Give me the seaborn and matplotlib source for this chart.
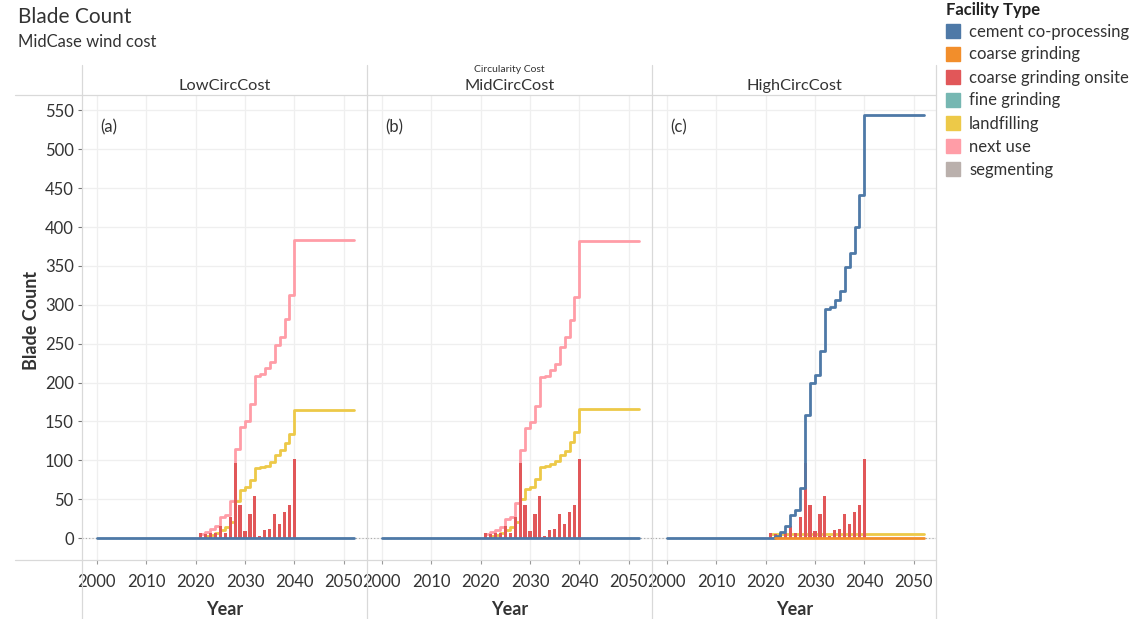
import matplotlib
matplotlib.use("Agg")
import matplotlib.pyplot as plt
from matplotlib.lines import Line2D
import pandas as pd
import seaborn as sns

# ---- data -------------------------------------------------------------
scenarios = ["LowCircCost", "MidCircCost", "HighCircCost"]
panel_tags = ["(a)", "(b)", "(c)"]

facility_types = [
    "cement co-processing",
    "coarse grinding",
    "coarse grinding onsite",
    "fine grinding",
    "landfilling",
    "next use",
    "segmenting",
]
facility_colors = ["#4E79A7", "#F28E2B", "#E15759", "#76B7B2",
                   "#EDC948", "#FF9DA7", "#BAB0AC"]

# coarse grinding onsite: yearly blade counts (same in all scenarios)
onsite_years = list(range(2021, 2041))
onsite_counts = [7, 5, 6.5, 6, 15.5, 6, 27, 96, 43, 9.5,
                 31, 54.5, 2.5, 10, 12, 31, 18.5, 33.5, 42, 102]

# cumulative step series
years_flat = [2000, 2052]
zero_flat = [0, 0]

years_next_use = list(range(2021, 2041)) + [2052]
low_next_use = [5, 8, 11, 15, 27, 29, 48, 115, 143, 150, 172, 209,
                211, 219, 226, 248, 259, 282, 312, 383, 383]
mid_next_use = [5, 8, 10, 14, 24, 27, 45, 113, 142, 149, 170, 207,
                209, 216, 224, 246, 258, 281, 310, 382, 382]

years_landfill = list(range(2022, 2041)) + [2052]
low_landfill = [2, 4, 6, 10, 14, 21, 48, 62, 66, 75, 90, 91, 93, 98,
                107, 113, 122, 134, 165, 165]
mid_landfill = [2, 4, 6, 10, 14, 21, 50, 63, 66, 76, 91, 93, 95, 99,
                107, 112, 123, 136, 166, 166]

years_high_cement = [2000] + list(range(2022, 2041)) + [2052]
high_cement = [0, 3, 8, 15, 29, 36, 64, 158, 200, 210, 240, 295, 297,
               306, 318, 348, 366, 400, 441, 544, 544]

years_high_landfill = [2021, 2052]
high_landfill = [5, 5]
years_high_coarse = [2022, 2052]
high_coarse = [0, 0]

# ---- long tables ------------------------------------------------------
line_parts = [
    ("LowCircCost", "cement co-processing", years_flat, zero_flat),
    ("LowCircCost", "landfilling", years_landfill, low_landfill),
    ("LowCircCost", "next use", years_next_use, low_next_use),
    ("MidCircCost", "cement co-processing", years_flat, zero_flat),
    ("MidCircCost", "landfilling", years_landfill, mid_landfill),
    ("MidCircCost", "next use", years_next_use, mid_next_use),
    ("HighCircCost", "cement co-processing", years_high_cement, high_cement),
    ("HighCircCost", "coarse grinding", years_high_coarse, high_coarse),
    ("HighCircCost", "landfilling", years_high_landfill, high_landfill),
]
lines_df = pd.concat(
    [pd.DataFrame({"Scenario": s, "Facility": f, "Year": y, "Count": v})
     for s, f, y, v in line_parts],
    ignore_index=True,
)
bars_df = pd.concat(
    [pd.DataFrame({"Scenario": s, "Year": onsite_years, "Count": onsite_counts})
     for s in scenarios],
    ignore_index=True,
)

palette = dict(zip(facility_types, facility_colors))
# stacking: next use / landfilling under the bars, cement / coarse grinding above
back_types = ["landfilling", "next use"]
front_types = ["coarse grinding", "cement co-processing"]

# ---- figure -----------------------------------------------------------
sns.set_theme(style="white")
plt.rcParams["font.family"] = ["Lato", "DejaVu Sans"]

W, H = 1138, 619
fig = plt.figure(figsize=(W / 100, H / 100), dpi=100)

text_col = "#333333"
grid_col = "#efefef"
sep_col = "#d9d9d9"

pane_left = [82, 367, 652]
pane_w = 285
pane_top, pane_bottom = 95, 560

for i, scen in enumerate(scenarios):
    ax = fig.add_axes([pane_left[i] / W, 1 - pane_bottom / H,
                       pane_w / W, (pane_bottom - pane_top) / H])
    ax.set_facecolor("white")
    ax.grid(True, color=grid_col, linewidth=0.9, zorder=0)
    ax.set_axisbelow(True)
    ax.axhline(0, color="#a8a8a8", linestyle=(0, (1, 2)), linewidth=0.8, zorder=1)

    sub_lines = lines_df[lines_df["Scenario"] == scen]
    back = sub_lines[sub_lines["Facility"].isin(back_types)]
    front = sub_lines[sub_lines["Facility"].isin(front_types)]

    if len(back):
        sns.lineplot(data=back, x="Year", y="Count", hue="Facility",
                     hue_order=facility_types, palette=palette,
                     drawstyle="steps-post", linewidth=2.0, errorbar=None,
                     legend=False, ax=ax, zorder=2)
    sns.barplot(data=bars_df[bars_df["Scenario"] == scen], x="Year", y="Count",
                native_scale=True, width=0.65, color="#E15759", saturation=1,
                errorbar=None, linewidth=0, ax=ax, zorder=2.5)
    sns.lineplot(data=front, x="Year", y="Count", hue="Facility",
                 hue_order=facility_types, palette=palette,
                 drawstyle="steps-post", linewidth=2.0, errorbar=None,
                 legend=False, ax=ax, zorder=3)

    ax.set_xlim(1997.0, 2054.7)
    ax.set_ylim(-28.3, 569.9)
    ax.set_xticks(range(2000, 2051, 10))
    ax.set_yticks(range(0, 551, 50))
    for sp in ax.spines.values():
        sp.set_visible(False)

    ax.tick_params(axis="x", bottom=True, direction="out", length=3, width=0.8,
                   color="#9a9a9a", labelsize=12, labelcolor=text_col, pad=7)
    if i == 0:
        ax.tick_params(axis="y", left=True, direction="out", length=3, width=0.8,
                       color="#777777", labelsize=12, labelcolor=text_col, pad=3)
    else:
        ax.tick_params(axis="y", left=False, labelleft=False)

    ax.set_xlabel("Year", fontsize=13, fontweight="bold", color=text_col, labelpad=8)
    ax.set_ylabel("")
    ax.text(18 / pane_w, 0.931, panel_tags[i], transform=ax.transAxes,
            fontsize=12, color=text_col, va="center")

    fig.text((pane_left[i] + pane_w / 2) / W, 1 - 86 / H, scen,
             ha="center", va="center", fontsize=11.8, color=text_col)

# pane separators
for x in pane_left + [936]:
    fig.add_artist(Line2D([x / W, x / W], [1 - 65 / H, 0], color=sep_col, linewidth=0.9))
for y in (pane_top, pane_bottom):
    fig.add_artist(Line2D([15 / W, 936 / W], [1 - y / H, 1 - y / H],
                          color=sep_col, linewidth=0.9))

# titles
fig.text(18 / W, 1 - 17 / H, "Blade Count", fontsize=15, color=text_col, va="center")
fig.text(18 / W, 1 - 42 / H, "MidCase wind cost", fontsize=12, color=text_col, va="center")
fig.text(509 / W, 1 - 69 / H, "Circularity Cost", fontsize=7.5, color=text_col,
         ha="center", va="center")
fig.text(32 / W, 1 - 320 / H, "Blade Count", fontsize=13, fontweight="bold",
         color=text_col, rotation=90, ha="center", va="center")

# legend
fig.text(946 / W, 1 - 10 / H, "Facility Type", fontsize=12, fontweight="bold",
         color="#222222", va="center", ha="left")
handles = [Line2D([], [], marker="s", linestyle="", markersize=9.5, color=c)
           for c in facility_colors]
leg = fig.legend(handles, facility_types, loc="upper left",
                 bbox_to_anchor=(945 / W, 1 - 23.5 / H), frameon=False,
                 fontsize=12, alignment="left", borderpad=0, borderaxespad=0,
                 handlelength=1.0, handletextpad=0.45, labelspacing=0.42)
for t in leg.get_texts():
    t.set_color(text_col)

fig.savefig("out.png", dpi=100, facecolor="white")
